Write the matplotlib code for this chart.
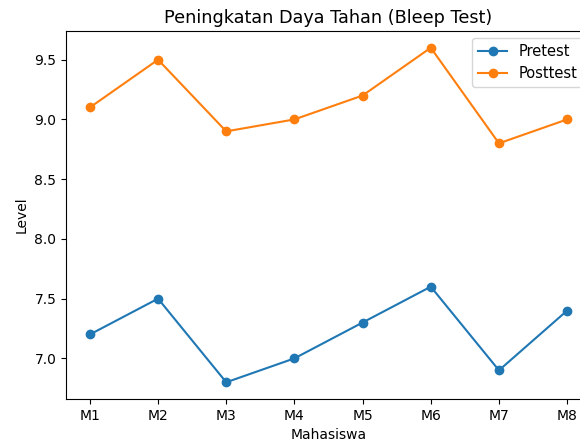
import matplotlib
matplotlib.use("Agg")
import matplotlib.pyplot as plt

mahasiswa = ["M1", "M2", "M3", "M4", "M5", "M6", "M7", "M8"]
pretest = [7.2, 7.5, 6.8, 7.0, 7.3, 7.6, 6.9, 7.4]
posttest = [9.1, 9.5, 8.9, 9.0, 9.2, 9.6, 8.8, 9.0]

fig = plt.figure(figsize=(5.8, 4.41), dpi=100)
# axes run slightly past the right edge, as in the cropped original
ax = fig.add_axes([66 / 580, 1 - 399 / 441, (591 - 66) / 580, 368 / 441])
ax.plot(mahasiswa, pretest, marker="o", label="Pretest")
ax.plot(mahasiswa, posttest, marker="o", label="Posttest")
ax.set_title("Peningkatan Daya Tahan (Bleep Test)", fontsize=12.7)
ax.set_xlabel("Mahasiswa")
ax.set_ylabel("Level")
ax.legend(loc="upper right", fontsize=10.5)

fig.savefig("out.png", dpi=100)
